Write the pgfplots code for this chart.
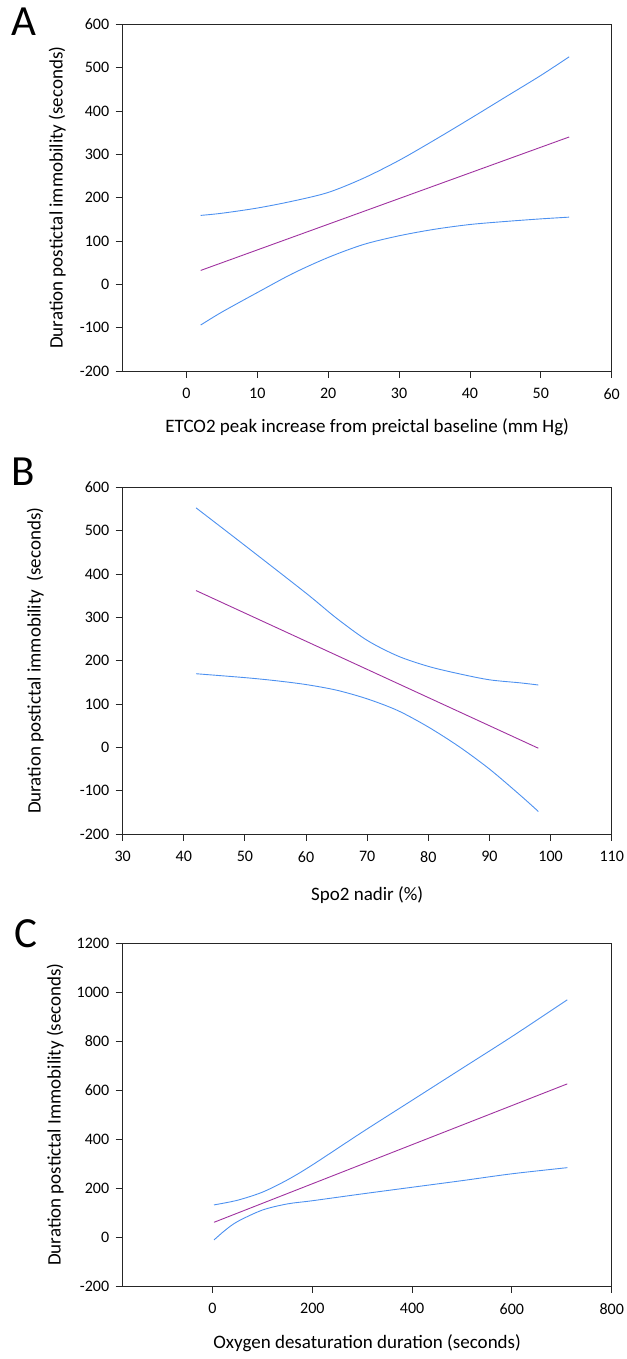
\documentclass[border=0pt]{standalone}
\usepackage{fontspec}
\setmainfont{Carlito}
\usepackage{pgfplots}
\pgfplotsset{compat=1.18}
\definecolor{ciblue}{RGB}{77,145,240}
\definecolor{fitpurple}{RGB}{160,50,160}
\pgfplotsset{
 panel/.style={
  scale only axis, width=489pt, height=346.7pt,
  anchor=south west,
  axis line style={black!85, line width=0.9pt},
  tick style={black!85, line width=0.9pt},
  tick align=outside, major tick length=7pt,
  xtick pos=bottom, ytick pos=left,
  tick label style={font=\fontsize{16}{19}\selectfont},
  label style={font=\fontsize{19}{22}\selectfont},
  /pgf/number format/assume math mode=true,
  /pgf/number format/1000 sep={},
  y tick label style={xshift=-3pt},
  x tick label style={yshift=-7pt},
  every axis plot/.append style={line width=0.9pt, no markers},
 }
}
\begin{document}
\begin{tikzpicture}
% ---------- Panel A ----------
\begin{axis}[panel, at={(122.7pt,988pt)},
  xmin=-9, xmax=60, ymin=-200, ymax=600,
  xtick={0,10,...,60}, ytick={-200,-100,...,600},
  xlabel={ETCO2 peak increase from preictal baseline (mm Hg)},
  ylabel={Duration postictal immobility (seconds)},
  xlabel style={at={(axis description cs:0.5,-0.162)}, anchor=center},
  ylabel style={at={(axis description cs:-0.134,0.5)}, anchor=center},
]
\addplot[fitpurple] coordinates {(2,32) (54,340)};
\addplot[ciblue, smooth] coordinates {(2,159) (5,164) (10,176) (15,192) (20,212) (25,245) (30,286) (35,333) (40,382) (45,432) (50,482) (54,525)};
\addplot[ciblue, smooth] coordinates {(2,-94) (5,-64) (10,-19) (15,25) (20,62) (25,92) (30,112) (35,127) (40,138) (45,145) (50,151) (54,155)};
\end{axis}
% ---------- Panel B ----------
\begin{axis}[panel, at={(122.7pt,525pt)}, height=346.5pt,
  xmin=30, xmax=110, ymin=-200, ymax=600,
  xtick={30,40,...,110}, ytick={-200,-100,...,600},
  xlabel={Spo2 nadir (\%)},
  ylabel={Duration postictal immobility\ \ (seconds)},
  xlabel style={at={(axis description cs:0.5,-0.176)}, anchor=center},
  ylabel style={at={(axis description cs:-0.179,0.5)}, anchor=center},
]
\addplot[fitpurple] coordinates {(42,362) (98,-2)};
\addplot[ciblue, smooth] coordinates {(42,553) (50,466) (60,356) (65,298) (70,247) (75,211) (80,187) (85,170) (90,156) (95,149) (98,144)};
\addplot[ciblue, smooth] coordinates {(42,170) (50,161) (55,154) (60,145) (65,132) (70,112) (75,85) (80,47) (85,2) (90,-50) (95,-110) (98,-148)};
\end{axis}
% ---------- Panel C ----------
\begin{axis}[panel, at={(122.7pt,73pt)}, height=343pt,
  xmin=-180, xmax=800, ymin=-200, ymax=1200,
  xtick={0,200,...,800}, ytick={-200,0,...,1200},
  xlabel={Oxygen desaturation duration (seconds)},
  ylabel={Duration postictal Immobility (seconds)},
  xlabel style={at={(axis description cs:0.5,-0.166)}, anchor=center},
  ylabel style={at={(axis description cs:-0.138,0.5)}, anchor=center},
]
\addplot[fitpurple] coordinates {(3,60) (711,625)};
\addplot[ciblue, smooth] coordinates {(3,131) (50,150) (100,183) (150,233) (200,294) (300,428) (400,558) (500,688) (600,818) (711,968)};
\addplot[ciblue, smooth] coordinates {(3,-12) (25,27) (50,63) (100,110) (150,135) (200,148) (300,176) (400,203) (500,230) (600,258) (711,283)};
\end{axis}
% panel letters
\node[font=\fontsize{43}{43}\selectfont, anchor=center] at (24pt,1337pt) {A};
\node[font=\fontsize{43}{43}\selectfont, anchor=center] at (23pt,887pt) {B};
\node[font=\fontsize{43}{43}\selectfont, anchor=center] at (26pt,425pt) {C};
\pgfresetboundingbox
\useasboundingbox (0pt,0pt) rectangle (626pt,1359pt);
\end{tikzpicture}
\end{document}
